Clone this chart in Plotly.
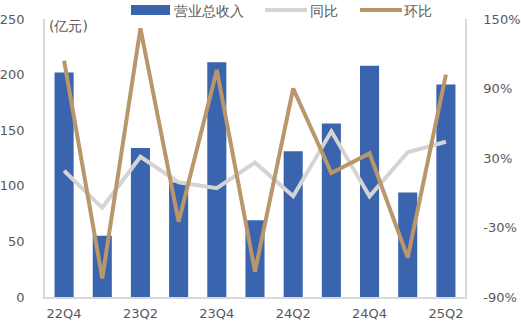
import plotly.graph_objects as go

categories = ["22Q4", "23Q1", "23Q2", "23Q3", "23Q4", "24Q1", "24Q2", "24Q3", "24Q4", "25Q1", "25Q2"]
revenue = [202, 55, 134, 103, 211, 69, 131, 156, 208, 94, 191]
yoy = [19, -13, 31, 9, 4, 26, -3, 53, -3, 35, 44]
qoq = [114, -74, 142, -25, 106, -68, 90, 17, 34, -56, 102]
left_ticks = [0, 50, 100, 150, 200, 250]
right_ticks = [-90, -30, 30, 90, 150]
x_tick_labels = ["22Q4", "23Q2", "23Q4", "24Q2", "24Q4", "25Q2"]
series_names = ["营业总收入", "同比", "环比"]

BLUE = "#3B64AE"
GRAY = "#D4D4D4"
TAN = "#B9976A"
TXT = "#595959"
FONT = "DejaVu Sans"

W, H = 521, 327
L, R, T, B = 45, 56, 19, 30

fig = go.Figure()
fig.add_trace(go.Bar(x=categories, y=revenue, name=series_names[0], marker=dict(color=BLUE, line=dict(width=0)), width=0.5))
fig.add_trace(go.Scatter(x=categories, y=yoy, name=series_names[1], mode="lines", line=dict(color=GRAY, width=4), yaxis="y2"))
fig.add_trace(go.Scatter(x=categories, y=qoq, name=series_names[2], mode="lines", line=dict(color=TAN, width=4), yaxis="y2"))

pw, ph = W - L - R, H - T - B
def px(x):
    return (x - L) / pw
def py(y):
    return (H - B - y) / ph

shapes = [
    dict(type="rect", xref="paper", yref="paper", x0=px(131), x1=px(170), y0=py(15), y1=py(5),
         fillcolor=BLUE, line=dict(width=0)),
    dict(type="line", xref="paper", yref="paper", x0=px(265), x1=px(307), y0=py(10), y1=py(10),
         line=dict(color=GRAY, width=4)),
    dict(type="line", xref="paper", yref="paper", x0=px(360), x1=px(402), y0=py(10), y1=py(10),
         line=dict(color=TAN, width=4)),
]
annotations = [
    dict(text="(亿元)", xref="paper", yref="paper", x=px(47), y=py(26),
         xanchor="left", yanchor="middle", showarrow=False, font=dict(size=14, color=TXT)),
    dict(text=series_names[0], xref="paper", yref="paper", x=px(172), y=py(11),
         xanchor="left", yanchor="middle", showarrow=False, font=dict(size=14, color=TXT)),
    dict(text=series_names[1], xref="paper", yref="paper", x=px(308), y=py(11),
         xanchor="left", yanchor="middle", showarrow=False, font=dict(size=14, color=TXT)),
    dict(text=series_names[2], xref="paper", yref="paper", x=px(402), y=py(11),
         xanchor="left", yanchor="middle", showarrow=False, font=dict(size=14, color=TXT)),
]

fig.update_layout(
    width=W, height=H,
    margin=dict(l=L, r=R, t=T, b=B, autoexpand=False),
    paper_bgcolor="white", plot_bgcolor="white",
    font=dict(family=FONT, size=13, color=TXT),
    showlegend=False,
    shapes=shapes,
    annotations=annotations,
    xaxis=dict(type="category", tickmode="array", tickvals=x_tick_labels, ticktext=x_tick_labels,
               showline=True, linecolor="#D9D9D9", linewidth=2, ticks="", showgrid=False,
               ticklabelstandoff=3,
               range=[-0.5, len(categories) - 0.5], tickfont=dict(size=13, color=TXT)),
    yaxis=dict(range=[0, 250], tickvals=left_ticks, showline=True, linecolor="#D9D9D9", linewidth=1.5,
               showgrid=False, zeroline=False, ticks="", ticklabelstandoff=16,
               tickfont=dict(size=13, color=TXT)),
    yaxis2=dict(range=[-90, 150], tickvals=right_ticks, ticktext=[f"{v}%" for v in right_ticks],
                overlaying="y", side="right", showline=True, linecolor="#D9D9D9", linewidth=1.5,
                showgrid=False, zeroline=False, ticks="", ticklabelstandoff=14,
                tickfont=dict(size=13, color=TXT)),
)

fig.write_html("out.html")
